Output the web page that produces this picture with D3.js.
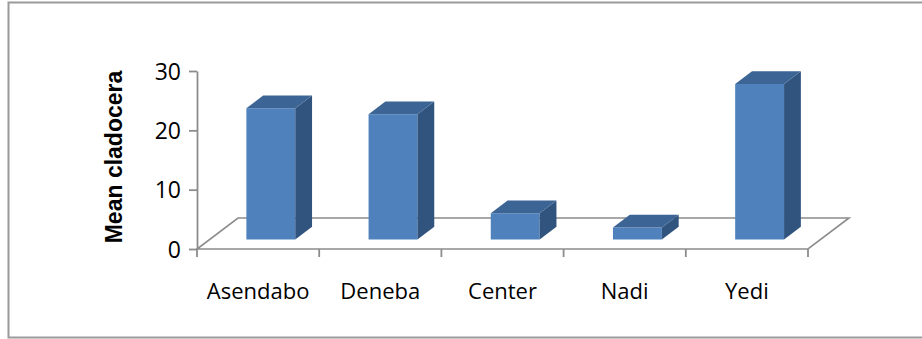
<!DOCTYPE html>
<html>
<head>
<meta charset="utf-8">
<script src="https://cdn.jsdelivr.net/npm/d3@7"></script>
<style>
  body { margin: 0; background: #fff; }
  svg text { font-family: "Open Sans", "Liberation Sans", sans-serif; fill: #000; }
</style>
</head>
<body>
<div id="chart"></div>
<script>
"use strict";

// chart data
const sites = ["Asendabo", "Deneba", "Center", "Nadi", "Yedi"];
const meanCladocera = [22.1, 21.1, 4.4, 2.0, 26.2];
const yTicks = [0, 10, 20, 30];
const yTitle = "Mean cladocera";

const W = 922, H = 339;

// floor depth offsets (oblique projection)
const depthX = 41, depthY = 31;
const barFront = 0.31, barBack = 0.72;

const svg = d3.select("#chart").append("svg")
  .attr("width", W)
  .attr("height", H);

// outer frame
svg.append("rect")
  .attr("x", 8.5).attr("y", 2.5)
  .attr("width", 930).attr("height", 335)
  .attr("fill", "none")
  .attr("stroke", "#9a9a9a")
  .attr("stroke-width", 2);

// scales
let xScale = d3.scaleBand().domain(sites).range([197, 808]).padding(0);
let yScale = d3.scaleLinear().domain([0, 30]).range([249, 71]);

// project a point (x, value, depth) to screen
let px = (x, z) => x + z * depthX;
let py = (v, z) => yScale(v) - z * depthY;

// floor parallelogram
const x0 = xScale.range()[0], x1 = xScale.range()[1];
const floorPts = [[x0, 0], [x1, 0], [x1, 1], [x0, 1]]
  .map(p => [px(p[0], p[1]), py(0, p[1])]);
svg.append("path")
  .attr("d", d3.line()(floorPts) + "Z")
  .attr("fill", "none")
  .attr("stroke", "#8c8c8c")
  .attr("stroke-width", 1.6);

// y axis
let yAxis = d3.axisLeft(yScale).tickValues(yTicks).tickSize(8).tickSizeOuter(0).tickPadding(8);
let yG = svg.append("g")
  .attr("class", "yAxis")
  .attr("transform", `translate(${x0},0)`)
  .call(yAxis);
yG.select(".domain").attr("stroke", "#8c8c8c").attr("stroke-width", 1.8);
yG.selectAll(".tick line").attr("stroke", "#8c8c8c").attr("stroke-width", 1.8);
yG.selectAll(".tick text")
  .style("font-size", "23px")
  .attr("fill", "#000")
  .attr("dy", "0.35em");

// x axis ticks at band boundaries
let bounds = sites.map(s => xScale(s)).concat([x1]);
svg.append("g").selectAll("line").data(bounds).enter()
  .append("line")
  .attr("x1", d => d).attr("x2", d => d)
  .attr("y1", yScale(0)).attr("y2", yScale(0) + 8)
  .attr("stroke", "#8c8c8c")
  .attr("stroke-width", 1.8);

// category labels
svg.append("g").selectAll("text").data(sites).enter()
  .append("text")
  .attr("x", d => xScale(d) + xScale.bandwidth() / 2)
  .attr("y", 299)
  .attr("text-anchor", "middle")
  .style("font-size", "22px")
  .text(d => d);

// y title
svg.append("text")
  .attr("transform", "translate(122,157) rotate(-90)")
  .attr("text-anchor", "middle")
  .style("font-family", "'Liberation Sans', Arial, sans-serif")
  .style("font-size", "23px")
  .style("font-weight", "bold")
  .text(yTitle);

// 3D bars
let barW = xScale.bandwidth() * 0.4;
let bars = svg.append("g").selectAll("g.bar")
  .data(sites.map((s, i) => ({ site: s, v: meanCladocera[i] })))
  .enter().append("g").attr("class", "bar");

bars.each(function(d) {
  let g = d3.select(this);
  let xl = xScale(d.site) + xScale.bandwidth() / 2 - barW / 2;
  let xr = xl + barW;
  let line = d3.line();
  let front = [[px(xl, barFront), py(0, barFront)], [px(xr, barFront), py(0, barFront)],
               [px(xr, barFront), py(d.v, barFront)], [px(xl, barFront), py(d.v, barFront)]];
  let side = [[px(xr, barFront), py(0, barFront)], [px(xr, barBack), py(0, barBack)],
              [px(xr, barBack), py(d.v, barBack)], [px(xr, barFront), py(d.v, barFront)]];
  let top = [[px(xl, barFront), py(d.v, barFront)], [px(xr, barFront), py(d.v, barFront)],
             [px(xr, barBack), py(d.v, barBack)], [px(xl, barBack), py(d.v, barBack)]];
  g.append("path").attr("d", line(front) + "Z").attr("fill", "#4f81bd");
  g.append("path").attr("d", line(side) + "Z").attr("fill", "#31547f");
  g.append("path").attr("d", line(top) + "Z").attr("fill", "#3c6595");
});
</script>
</body>
</html>
